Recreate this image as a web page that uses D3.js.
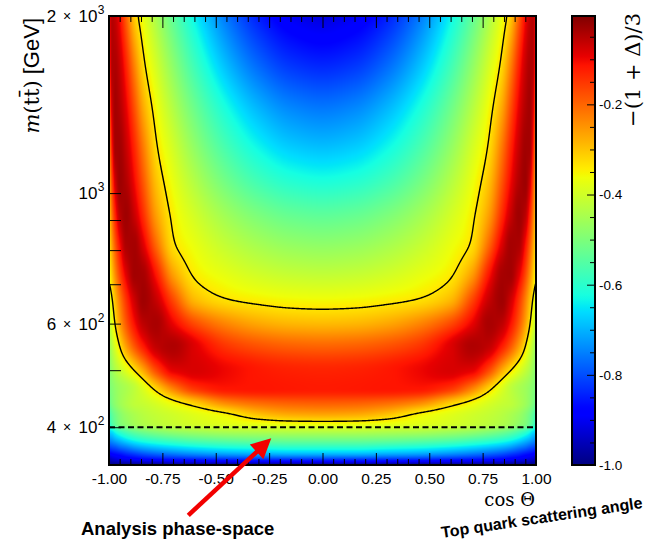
<!DOCTYPE html>
<html>
<head>
<meta charset="utf-8">
<script src="https://cdn.jsdelivr.net/npm/d3@7/dist/d3.min.js"></script>
<style>
  html, body { margin: 0; padding: 0; background: #ffffff; }
  svg { display: block; }
</style>
</head>
<body>
<svg id="chart" width="648" height="543"></svg>
<script>
// ---------------------------------------------------------------------------
// Spin-correlation map -(1+Delta)/3 in the (cos Theta, m(tt)) plane.
// Values are sampled on a grid that is denser near cos Theta = +-1 and near
// the production threshold, where the map changes fastest.
// ---------------------------------------------------------------------------
const cosNodes = [-1, -0.995, -0.985, -0.97, -0.95, -0.92, -0.88, -0.84, -0.78, -0.7, -0.6, -0.45, -0.3, -0.15, 0,
                  0.15, 0.3, 0.45, 0.6, 0.7, 0.78, 0.84, 0.88, 0.92, 0.95, 0.97, 0.985, 0.995, 1];
const massNodes = [345, 352, 360, 370, 380, 392, 405, 420, 440, 465, 500, 550, 600, 660, 730, 820, 920, 1050, 1200, 1400, 1650, 2000];

const z345  = [-1,-1,-1,-1,-1,-1,-1,-1,-1,-1,-1,-1,-1,-1,-1,-1,-1,-1,-1,-1,-1,-1,-1,-1,-1,-1,-1,-1,-1];
const z352  = [-0.95,-0.95,-0.94,-0.93,-0.92,-0.91,-0.9,-0.89,-0.88,-0.87,-0.86,-0.85,-0.845,-0.84,-0.84,-0.84,-0.845,-0.85,-0.86,-0.87,-0.88,-0.89,-0.9,-0.91,-0.92,-0.93,-0.94,-0.95,-0.95];
const z360  = [-0.90,-0.89,-0.88,-0.87,-0.86,-0.84,-0.82,-0.80,-0.78,-0.76,-0.74,-0.72,-0.71,-0.70,-0.70,-0.70,-0.71,-0.72,-0.74,-0.76,-0.78,-0.80,-0.82,-0.84,-0.86,-0.87,-0.88,-0.89,-0.90];
const z370  = [-0.82,-0.81,-0.80,-0.79,-0.77,-0.75,-0.72,-0.70,-0.68,-0.66,-0.64,-0.62,-0.61,-0.60,-0.60,-0.60,-0.61,-0.62,-0.64,-0.66,-0.68,-0.70,-0.72,-0.75,-0.77,-0.79,-0.80,-0.81,-0.82];
const z380  = [-0.75,-0.74,-0.73,-0.71,-0.69,-0.66,-0.63,-0.61,-0.59,-0.57,-0.55,-0.535,-0.525,-0.52,-0.52,-0.52,-0.525,-0.535,-0.55,-0.57,-0.59,-0.61,-0.63,-0.66,-0.69,-0.71,-0.73,-0.74,-0.75];
const z392  = [-0.68,-0.67,-0.66,-0.63,-0.60,-0.57,-0.54,-0.52,-0.50,-0.48,-0.465,-0.45,-0.445,-0.44,-0.44,-0.44,-0.445,-0.45,-0.465,-0.48,-0.50,-0.52,-0.54,-0.57,-0.60,-0.63,-0.66,-0.67,-0.68];
const z405  = [-0.61,-0.59,-0.56,-0.53,-0.50,-0.48,-0.455,-0.44,-0.425,-0.41,-0.395,-0.38,-0.37,-0.362,-0.36,-0.362,-0.37,-0.38,-0.395,-0.41,-0.425,-0.44,-0.455,-0.48,-0.50,-0.53,-0.56,-0.59,-0.61];
const z420  = [-0.58,-0.565,-0.54,-0.515,-0.49,-0.465,-0.445,-0.43,-0.415,-0.40,-0.38,-0.35,-0.30,-0.275,-0.27,-0.275,-0.30,-0.35,-0.38,-0.40,-0.415,-0.43,-0.445,-0.465,-0.49,-0.515,-0.54,-0.565,-0.58];
const z440  = [-0.54,-0.52,-0.50,-0.48,-0.46,-0.44,-0.42,-0.41,-0.39,-0.355,-0.31,-0.235,-0.205,-0.193,-0.19,-0.193,-0.205,-0.235,-0.31,-0.355,-0.39,-0.41,-0.42,-0.44,-0.46,-0.48,-0.50,-0.52,-0.54];
const z465  = [-0.51,-0.50,-0.49,-0.475,-0.46,-0.445,-0.42,-0.385,-0.32,-0.23,-0.15,-0.115,-0.115,-0.118,-0.12,-0.118,-0.115,-0.115,-0.15,-0.23,-0.32,-0.385,-0.42,-0.445,-0.46,-0.475,-0.49,-0.50,-0.51];
const z500  = [-0.50,-0.485,-0.465,-0.44,-0.415,-0.38,-0.33,-0.27,-0.17,-0.09,-0.08,-0.10,-0.118,-0.127,-0.13,-0.127,-0.118,-0.10,-0.08,-0.09,-0.17,-0.27,-0.33,-0.38,-0.415,-0.44,-0.465,-0.485,-0.50];
const z550  = [-0.47,-0.455,-0.425,-0.383,-0.33,-0.259,-0.18,-0.119,-0.06,-0.045,-0.085,-0.15,-0.18,-0.195,-0.20,-0.195,-0.18,-0.15,-0.085,-0.045,-0.06,-0.119,-0.18,-0.259,-0.33,-0.383,-0.425,-0.455,-0.47];
const z600  = [-0.43,-0.411,-0.376,-0.325,-0.264,-0.186,-0.108,-0.057,-0.04,-0.095,-0.17,-0.235,-0.27,-0.286,-0.29,-0.286,-0.27,-0.235,-0.17,-0.095,-0.04,-0.057,-0.108,-0.186,-0.264,-0.325,-0.376,-0.411,-0.43];
const z660  = [-0.40,-0.379,-0.34,-0.289,-0.226,-0.145,-0.068,-0.032,-0.065,-0.17,-0.29,-0.333,-0.348,-0.357,-0.36,-0.357,-0.348,-0.333,-0.29,-0.17,-0.065,-0.032,-0.068,-0.145,-0.226,-0.289,-0.34,-0.379,-0.40];
const z730  = [-0.37,-0.345,-0.299,-0.236,-0.165,-0.086,-0.034,-0.039,-0.117,-0.263,-0.342,-0.376,-0.4005,-0.415,-0.42,-0.415,-0.4005,-0.376,-0.342,-0.263,-0.117,-0.039,-0.034,-0.086,-0.165,-0.236,-0.299,-0.345,-0.37];
const z820  = [-0.34,-0.31,-0.254,-0.182,-0.108,-0.042,-0.037,-0.086,-0.204,-0.329,-0.37,-0.418,-0.452,-0.473,-0.48,-0.473,-0.452,-0.418,-0.37,-0.329,-0.204,-0.086,-0.037,-0.042,-0.108,-0.182,-0.254,-0.31,-0.34];
const z920  = [-0.32,-0.28,-0.209,-0.125,-0.054,-0.032,-0.069,-0.14,-0.26,-0.346,-0.398,-0.46,-0.504,-0.531,-0.54,-0.531,-0.504,-0.46,-0.398,-0.346,-0.26,-0.14,-0.069,-0.032,-0.054,-0.125,-0.209,-0.28,-0.32];
const z1050 = [-0.30,-0.247,-0.158,-0.068,-0.03,-0.047,-0.105,-0.184,-0.297,-0.37,-0.436,-0.5165,-0.574,-0.6085,-0.62,-0.6085,-0.574,-0.5165,-0.436,-0.37,-0.297,-0.184,-0.105,-0.047,-0.03,-0.068,-0.158,-0.247,-0.30];
const z1200 = [-0.27,-0.206,-0.108,-0.035,-0.034,-0.065,-0.136,-0.222,-0.328,-0.398,-0.476,-0.569,-0.636,-0.677,-0.69,-0.677,-0.636,-0.569,-0.476,-0.398,-0.328,-0.222,-0.136,-0.065,-0.034,-0.035,-0.108,-0.206,-0.27];
const z1400 = [-0.23,-0.162,-0.07,-0.035,-0.048,-0.092,-0.18,-0.272,-0.357,-0.436,-0.522,-0.626,-0.7,-0.745,-0.76,-0.745,-0.7,-0.626,-0.522,-0.436,-0.357,-0.272,-0.18,-0.092,-0.048,-0.035,-0.07,-0.162,-0.23];
const z1650 = [-0.18,-0.116,-0.046,-0.044,-0.066,-0.129,-0.234,-0.322,-0.395,-0.481,-0.577,-0.692,-0.774,-0.824,-0.84,-0.824,-0.774,-0.692,-0.577,-0.481,-0.395,-0.322,-0.234,-0.129,-0.066,-0.044,-0.046,-0.116,-0.18];
const z2000 = [-0.14,-0.084,-0.05,-0.063,-0.104,-0.194,-0.31,-0.369,-0.445,-0.538,-0.639,-0.762,-0.85,-0.902,-0.92,-0.902,-0.85,-0.762,-0.639,-0.538,-0.445,-0.369,-0.31,-0.194,-0.104,-0.063,-0.05,-0.084,-0.14];

const fieldRows = [z345, z352, z360, z370, z380, z392, z405, z420, z440, z465, z500, z550, z600,
                   z660, z730, z820, z920, z1050, z1200, z1400, z1650, z2000];

// Axis ranges, tick values and labels
const cosRange = [-1, 1];
const massRange = [345, 2000];
const zRange = [-1.0, -0.004];
const xTickValues = [-1, -0.75, -0.5, -0.25, 0, 0.25, 0.5, 0.75, 1];
const xTickLabels = ["-1.00", "-0.75", "-0.50", "-0.25", "0.00", "0.25", "0.50", "0.75", "1.00"];
const yTickValues = [400, 500, 600, 700, 800, 900, 1000, 2000];
const yLabelValues = [400, 600, 1000, 2000];
const yLabelMantissa = ["4", "6", "", "2"];
const yLabelExponent = ["2", "2", "3", "3"];
const zTickValues = [-1.0, -0.8, -0.6, -0.4, -0.2];
const zTickLabels = ["-1.0", "-0.8", "-0.6", "-0.4", "-0.2"];
const contourLevels = [-1 / 3];
const analysisCutMass = 400;
const arrowTarget = { cos: -0.24, mass: 383 };

// ---------------------------------------------------------------------------
const SANS = "'Liberation Sans', Arial, Helvetica, sans-serif";
const SERIF = "'DejaVu Serif', serif";
const plot = { left: 109, right: 536, top: 16, bottom: 465 };
const bar = { left: 572, right: 595 };

const x = d3.scaleLinear().domain(cosRange).range([plot.left, plot.right]);
const y = d3.scaleLog().domain(massRange).range([plot.bottom, plot.top]);
const zAxisScale = d3.scaleLinear().domain(zRange).range([plot.bottom, plot.top]);

// jet-style palette
const zNorm = d3.scaleLinear().domain(zRange).range([0, 1]).clamp(true);
const jetR = d3.scaleLinear().domain([0, 0.35, 0.66, 0.89, 1]).range([0, 0, 1, 1, 0.5]).clamp(true);
const jetG = d3.scaleLinear().domain([0, 0.125, 0.375, 0.64, 0.91, 1]).range([0, 0, 1, 1, 0, 0]).clamp(true);
const jetB = d3.scaleLinear().domain([0, 0.11, 0.34, 0.65, 1]).range([0.5, 1, 1, 0, 0]).clamp(true);
const rgbOf = v => { const t = zNorm(v); return [jetR(t) * 255, jetG(t) * 255, jetB(t) * 255]; };

// Shape-preserving (monotone) cubic through sampled nodes, used for smooth shading
function pchipSlopes(xs, ys) {
  const n = xs.length, d = [], m = new Array(n);
  for (let k = 0; k < n - 1; k++) d.push((ys[k + 1] - ys[k]) / (xs[k + 1] - xs[k]));
  m[0] = d[0]; m[n - 1] = d[n - 2];
  for (let k = 1; k < n - 1; k++) {
    if (d[k - 1] * d[k] <= 0) { m[k] = 0; continue; }
    const h0 = xs[k] - xs[k - 1], h1 = xs[k + 1] - xs[k];
    const w1 = 2 * h1 + h0, w2 = h1 + 2 * h0;
    m[k] = (w1 + w2) / (w1 / d[k - 1] + w2 / d[k]);
  }
  return m;
}
function pchipEval(xs, ys, ms, xv) {
  const k = Math.max(0, Math.min(xs.length - 2, d3.bisectRight(xs, xv) - 1));
  const h = xs[k + 1] - xs[k];
  const t = Math.max(0, Math.min(1, (xv - xs[k]) / h));
  const t2 = t * t, t3 = t2 * t;
  return (2 * t3 - 3 * t2 + 1) * ys[k] + (t3 - 2 * t2 + t) * h * ms[k]
       + (-2 * t3 + 3 * t2) * ys[k + 1] + (t3 - t2) * h * ms[k + 1];
}
const logMass = massNodes.map(Math.log);
const rowSlopes = fieldRows.map(r => pchipSlopes(cosNodes, r));

const svg = d3.select("#chart");
const defs = svg.append("defs");
defs.append("clipPath").attr("id", "plotClip").append("rect")
  .attr("x", plot.left).attr("y", plot.top)
  .attr("width", plot.right - plot.left).attr("height", plot.bottom - plot.top);

// ---- heat map raster ------------------------------------------------------
const nx = plot.right - plot.left, ny = plot.bottom - plot.top;
const grid = new Array(nx * ny);
for (let i = 0; i < nx; i++) {
  const c = x.invert(plot.left + i + 0.5);
  const column = fieldRows.map((r, k) => pchipEval(cosNodes, r, rowSlopes[k], c));
  const colSlopes = pchipSlopes(logMass, column);
  for (let j = 0; j < ny; j++) {
    const lm = Math.log(y.invert(plot.top + j + 0.5));
    grid[j * nx + i] = pchipEval(logMass, column, colSlopes, lm);
  }
}
const canvas = document.createElement("canvas");
canvas.width = nx; canvas.height = ny;
const ctx = canvas.getContext("2d");
const img = ctx.createImageData(nx, ny);
grid.forEach((v, p) => {
  const [r, g, b] = rgbOf(v);
  img.data[4 * p] = r; img.data[4 * p + 1] = g; img.data[4 * p + 2] = b; img.data[4 * p + 3] = 255;
});
ctx.putImageData(img, 0, 0);
svg.append("image")
  .attr("x", plot.left).attr("y", plot.top)
  .attr("width", nx).attr("height", ny)
  .attr("preserveAspectRatio", "none")
  .attr("href", canvas.toDataURL());

// ---- iso-lines at -1/3 (traced on a lightly smoothed copy of the raster) ---
function boxBlur(src, w, h, r) {
  const tmp = new Array(w * h), out = new Array(w * h);
  for (let j = 0; j < h; j++) for (let i = 0; i < w; i++) {
    let s = 0, n = 0;
    for (let k = -r; k <= r; k++) { const ii = Math.min(w - 1, Math.max(0, i + k)); s += src[j * w + ii]; n++; }
    tmp[j * w + i] = s / n;
  }
  for (let j = 0; j < h; j++) for (let i = 0; i < w; i++) {
    let s = 0, n = 0;
    for (let k = -r; k <= r; k++) { const jj = Math.min(h - 1, Math.max(0, j + k)); s += tmp[jj * w + i]; n++; }
    out[j * w + i] = s / n;
  }
  return out;
}
let smoothGrid = grid;
for (let pass = 0; pass < 3; pass++) smoothGrid = boxBlur(smoothGrid, nx, ny, 3);
const isoBands = d3.contours().size([nx, ny]).thresholds(contourLevels)(smoothGrid);
svg.append("g").attr("clip-path", "url(#plotClip)")
  .selectAll("path").data(isoBands).join("path")
  .attr("transform", `translate(${plot.left},${plot.top})`)
  .attr("d", d3.geoPath())
  .attr("fill", "none").attr("stroke", "#000").attr("stroke-width", 1.4)
  .attr("stroke-linejoin", "round");

// ---- analysis cut ---------------------------------------------------------
svg.append("line")
  .attr("x1", x(cosRange[0])).attr("x2", x(cosRange[1]))
  .attr("y1", y(analysisCutMass)).attr("y2", y(analysisCutMass))
  .attr("stroke", "#000").attr("stroke-width", 2).attr("stroke-dasharray", "6,3.5");

// ---- axes -----------------------------------------------------------------
function addAxis(gen, tx, ty) {
  const g = svg.append("g").attr("transform", `translate(${tx},${ty})`).call(gen);
  g.select(".domain").remove();
  g.selectAll(".tick line").attr("stroke", "#000").attr("stroke-width", 1);
  return g;
}
const xMinor = d3.range(-20, 21).map(k => k / 20).filter(v => !xTickValues.includes(v));

const bottomAxis = addAxis(d3.axisBottom(x).tickValues(xTickValues).tickSize(-12).tickPadding(7.5)
  .tickFormat((d, i) => xTickLabels[i]), 0, plot.bottom);
bottomAxis.selectAll("text").attr("font-family", SANS).attr("font-size", "15.5px").attr("fill", "#000");
addAxis(d3.axisBottom(x).tickValues(xMinor).tickSize(-6).tickFormat(""), 0, plot.bottom);
addAxis(d3.axisTop(x).tickValues(xTickValues).tickSize(-12).tickFormat(""), 0, plot.top);
addAxis(d3.axisTop(x).tickValues(xMinor).tickSize(-6).tickFormat(""), 0, plot.top);
addAxis(d3.axisLeft(y).tickValues(yTickValues).tickSize(-12).tickFormat(""), plot.left, 0);

// y tick labels  "a × 10^b"
const yLab = svg.append("g").attr("font-family", SANS).attr("fill", "#000");
const labelRight = 104;
yLabelValues.forEach((v, i) => {
  const g = yLab.append("g").attr("transform", `translate(${labelRight},${y(v)})`);
  g.append("text").attr("x", -6.5).attr("y", 6).attr("text-anchor", "end")
    .attr("font-size", "17px").text("10");
  g.append("text").attr("x", -6.3).attr("y", -2).attr("text-anchor", "start")
    .attr("font-size", "12px").text(yLabelExponent[i]);
  if (yLabelMantissa[i]) {
    g.append("text").attr("x", -37).attr("y", 5).attr("text-anchor", "middle")
      .attr("font-size", "14px").text("\u00D7");
    g.append("text").attr("x", -52.5).attr("y", 6).attr("text-anchor", "middle")
      .attr("font-size", "17px").text(yLabelMantissa[i]);
  }
});

// frame
svg.append("rect")
  .attr("x", plot.left).attr("y", plot.top)
  .attr("width", plot.right - plot.left).attr("height", plot.bottom - plot.top)
  .attr("fill", "none").attr("stroke", "#000").attr("stroke-width", 2);

// ---- axis titles ----------------------------------------------------------
const yTitle = svg.append("text")
  .attr("transform", `translate(39,18) rotate(-90)`)
  .attr("text-anchor", "end").attr("fill", "#000");
yTitle.append("tspan").attr("font-family", SERIF).attr("font-style", "italic").attr("font-size", "21px").text("m");
yTitle.append("tspan").attr("font-family", SERIF).attr("font-size", "21px").text("(tt\u0304)");
yTitle.append("tspan").attr("font-family", SANS).attr("font-size", "22px").text(" [GeV]");

svg.append("text")
  .attr("x", 535).attr("y", 506).attr("text-anchor", "end")
  .attr("font-family", SERIF).attr("font-size", "18px").attr("fill", "#000")
  .text("cos \u0398");

// ---- colour bar -----------------------------------------------------------
const grad = defs.append("linearGradient").attr("id", "zGrad")
  .attr("x1", 0).attr("y1", 1).attr("x2", 0).attr("y2", 0);
d3.range(0, 101).forEach(k => {
  const t = k / 100;
  const v = zRange[0] + t * (zRange[1] - zRange[0]);
  const [r, g, b] = rgbOf(v);
  grad.append("stop").attr("offset", t).attr("stop-color", d3.rgb(r, g, b).formatHex());
});
svg.append("rect")
  .attr("x", bar.left).attr("y", plot.top)
  .attr("width", bar.right - bar.left).attr("height", plot.bottom - plot.top)
  .attr("fill", "url(#zGrad)");

const zMinor = d3.range(0, 20).map(k => -1 + k * 0.05).filter(v => !zTickValues.some(t => Math.abs(t - v) < 1e-9));
const zAxis = addAxis(d3.axisRight(zAxisScale).tickValues(zTickValues).tickSize(-8).tickPadding(4)
  .tickFormat((d, i) => zTickLabels[i]), bar.right, 0);
zAxis.selectAll("text").attr("font-family", SANS).attr("font-size", "13.5px").attr("fill", "#000");
addAxis(d3.axisRight(zAxisScale).tickValues(zMinor).tickSize(-5).tickFormat(""), bar.right, 0);

svg.append("rect")
  .attr("x", bar.left).attr("y", plot.top)
  .attr("width", bar.right - bar.left).attr("height", plot.bottom - plot.top)
  .attr("fill", "none").attr("stroke", "#000").attr("stroke-width", 2);

svg.append("text")
  .attr("transform", `translate(640,13) rotate(-90)`)
  .attr("text-anchor", "end")
  .attr("font-family", SERIF).attr("font-size", "21px").attr("fill", "#000")
  .text("\u2212(1 + \u0394)/3");

// ---- annotations ----------------------------------------------------------
const tip = [x(arrowTarget.cos), y(arrowTarget.mass)];
const tail = [tip[0] - 83, tip[1] + 77];
const ang = Math.atan2(tip[1] - tail[1], tip[0] - tail[0]);
const headLen = 20, headHalf = 10;
const base = [tip[0] - headLen * Math.cos(ang), tip[1] - headLen * Math.sin(ang)];
const nrm = [-Math.sin(ang), Math.cos(ang)];
svg.append("line")
  .attr("x1", tail[0]).attr("y1", tail[1])
  .attr("x2", base[0] + 2 * Math.cos(ang)).attr("y2", base[1] + 2 * Math.sin(ang))
  .attr("stroke", "#f20000").attr("stroke-width", 4.5);
svg.append("path")
  .attr("d", d3.line()([tip,
    [base[0] + headHalf * nrm[0], base[1] + headHalf * nrm[1]],
    [base[0] - headHalf * nrm[0], base[1] - headHalf * nrm[1]]]) + "Z")
  .attr("fill", "#f20000");

svg.append("text")
  .attr("x", 81).attr("y", 535)
  .attr("font-family", SANS).attr("font-weight", "bold").attr("font-size", "18.5px").attr("fill", "#000")
  .text("Analysis phase-space");

svg.append("text")
  .attr("transform", "translate(442,538) rotate(-8.5)")
  .attr("font-family", SANS).attr("font-weight", "bold").attr("font-size", "16px").attr("fill", "#000")
  .text("Top quark scattering angle");
</script>
</body>
</html>
